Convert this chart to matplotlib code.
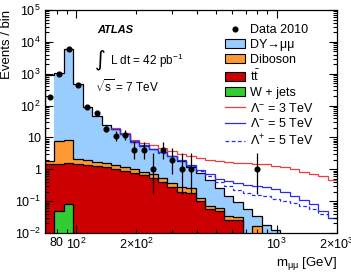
import numpy as np
import matplotlib
matplotlib.use("Agg")
import matplotlib.pyplot as plt
from matplotlib.lines import Line2D
from matplotlib.patches import Patch
from matplotlib.ticker import FixedLocator, FixedFormatter

plt.rcParams["font.family"] = ["Liberation Sans", "DejaVu Sans"]
plt.rcParams["mathtext.fontset"] = "custom"
plt.rcParams["mathtext.rm"] = "Liberation Sans"
plt.rcParams["mathtext.it"] = "Liberation Sans:italic"
plt.rcParams["mathtext.bf"] = "Liberation Sans:bold"

# 31 log bins between 70 and 2000 GeV
mass_edges = np.geomspace(70, 2000, 32)

# events per bin
data_2010 = [190, 1000, 5800, 440, 88, 60, 19, 11, 12, 4, 4, 1, 4, 2, 1, 1,
             0, 0, 0, 0, 0, 0, 1, 0, 0, 0, 0, 0, 0, 0, 0]
dy = [898, 1062, 5790, 488, 88, 45, 22.4, 16.6, 11.3, 6.3, 4.6, 3.6, 2.9,
      2.2, 1.5, 0.95, 0.65, 0.39, 0.2, 0.11, 0.062, 0.055, 0.017, 0.018,
      0.012, 0, 0, 0, 0, 0, 0]
diboson = [0.3, 6.5, 6.75, 0.65, 0.5, 0.45, 0.4, 0.35, 0.3, 0.22, 0.2, 0.15,
           0.12, 0.08, 0.07, 0.07, 0.03, 0.015, 0.012, 0.008, 0.007, 0, 0.016,
           0, 0, 0, 0, 0, 0, 0, 0]
ttbar = [1.5, 1.45, 1.47, 1.45, 1.4, 1.3, 1.2, 1.05, 0.9, 0.78, 0.65, 0.55,
         0.4, 0.28, 0.2, 0.18, 0.1, 0.055, 0.05, 0.025, 0.025, 0, 0, 0, 0, 0,
         0, 0, 0, 0, 0]
wjets = [0, 0.05, 0.08] + [0] * 28

# contact interaction predictions (total), drawn from bin 8 on
ci_first = 7
lam_minus_3 = [20, 14, 8.3, 6.8, 5.6, 4.6, 3.7, 3.0, 2.6, 2.2, 2.0, 1.8, 1.7,
               1.6, 1.6, 1.5, 1.45, 1.3, 1.15, 1.0, 0.85, 0.7, 0.6, 0.45]
lam_minus_5 = [19, 13, 7.6, 5.6, 4.4, 3.5, 2.7, 1.9, 1.4, 0.95, 0.7, 0.5, 0.42,
               0.36, 0.33, 0.3, 0.27, 0.24, 0.2, 0.15, 0.11, 0.08, 0.05, 0.03]
lam_plus_5 = [18.5, 12.8, 7.4, 5.4, 4.2, 3.3, 2.6, 1.8, 1.3, 0.88, 0.6, 0.4,
              0.3, 0.22, 0.18, 0.16, 0.14, 0.12, 0.1, 0.085, 0.07, 0.055, 0.04,
              0.03]

C_DY = "#99ccff"
C_DIBOSON = "#ff9933"
C_TTBAR = "#cc0000"
C_WJETS = "#33cc33"
FLOOR = 1e-4


def stacked(*parts):
    return np.sum([np.asarray(p, dtype=float) for p in parts], axis=0)


def draw_hist(ax, values, edges, color, fill_from=0):
    v = np.clip(values, FLOOR, None)
    ax.stairs(v[fill_from:], edges[fill_from:], baseline=FLOOR, fill=True,
              color=color, lw=0)
    ax.stairs(v, edges, baseline=FLOOR, fill=False, color="k", lw=0.9)


def poisson_err(n):
    n = np.asarray(n, dtype=float)
    up = np.sqrt(n + 0.75) + 1.0
    low = n - n * (1 - 1 / (9 * n) - 1 / (3 * np.sqrt(n))) ** 3
    return low, up


fig = plt.figure(figsize=(3.51, 2.73), dpi=100)
ax = fig.add_axes([45 / 351, 40 / 273, 292 / 351, 223 / 273])
ax.set_xscale("log")
ax.set_yscale("log")

# stack: W+jets, ttbar, diboson, DY
top_w = stacked(wjets)
top_tt = stacked(wjets, ttbar)
top_db = stacked(wjets, ttbar, diboson)
top_dy = stacked(wjets, ttbar, diboson, dy)

draw_hist(ax, top_dy, mass_edges, C_DY, fill_from=1)
draw_hist(ax, top_db, mass_edges, C_DIBOSON)
draw_hist(ax, top_tt, mass_edges, C_TTBAR)
draw_hist(ax, top_w, mass_edges, C_WJETS)

ci_edges = mass_edges[ci_first:]
ax.stairs(lam_minus_3, ci_edges, baseline=None, color="#f03c3c", lw=0.9)
ax.stairs(lam_minus_5, ci_edges, baseline=None, color="#2b2bf0", lw=0.9)
ax.stairs(lam_plus_5, ci_edges, baseline=None, color="#2b2bf0", lw=0.9,
          ls=(0, (3, 2)))

# data
centres = np.sqrt(mass_edges[:-1] * mass_edges[1:])
counts = np.asarray(data_2010, dtype=float)
sel = counts > 0
lo, hi = poisson_err(counts[sel])
ax.errorbar(centres[sel], counts[sel], yerr=[lo, hi], fmt="o", color="k",
            ms=3.4, elinewidth=0.9, capsize=0, zorder=5)

ax.set_xlim(70, 2000)
ax.set_ylim(1e-2, 1e5)

# ticks, ROOT style
ax.xaxis.set_major_locator(FixedLocator([100, 1000]))
ax.xaxis.set_major_formatter(FixedFormatter([r"$10^{2}$", r"$10^{3}$"]))
ax.xaxis.set_minor_locator(FixedLocator(
    [80, 90, 200, 300, 400, 500, 600, 700, 800, 900, 2000]))
ax.xaxis.set_minor_formatter(FixedFormatter(
    ["80", "", r"$2\!\times\!10^{2}$", "", "", "", "", "", "", "",
     r"$2\!\times\!10^{3}$"]))
ydec = [1e-2, 1e-1, 1, 10, 1e2, 1e3, 1e4, 1e5]
ax.yaxis.set_major_locator(FixedLocator(ydec))
ax.yaxis.set_major_formatter(FixedFormatter(
    [r"$10^{-2}$", r"$10^{-1}$", "1", "10", r"$10^{2}$", r"$10^{3}$",
     r"$10^{4}$", r"$10^{5}$"]))
ax.yaxis.set_minor_locator(FixedLocator(
    [m * d for d in ydec[:-1] for m in range(2, 10)]))
ax.yaxis.set_minor_formatter(FixedFormatter([]))
ax.tick_params(which="both", direction="in", top=True, right=True,
               labelsize=9, width=0.8, pad=3)
ax.tick_params(which="major", length=5.5)
ax.tick_params(which="minor", length=3)
for s in ax.spines.values():
    s.set_linewidth(0.9)

ax.set_ylabel("Events / bin", fontsize=9.5, loc="top")
ax.yaxis.set_label_coords(-0.108, 1.0)
ax.set_xlabel(r"m$_{\mathrm{μμ}}$ [GeV]", fontsize=9.5, loc="right")
ax.xaxis.set_label_coords(1.0, -0.1)

# labels
ax.text(0.178, 0.91, "ATLAS", transform=ax.transAxes, fontsize=8,
        fontweight="bold", fontstyle="italic", va="center")
ax.text(0.172, 0.775, "∫", transform=ax.transAxes, fontsize=15,
        family="DejaVu Sans", va="center")
ax.text(0.222, 0.77, r"L dt = 42 pb$^{-1}$", transform=ax.transAxes,
        fontsize=8.5, va="center")
ax.text(0.171, 0.655, r"$\sqrt{\mathrm{s}}$ = 7 TeV", transform=ax.transAxes,
        fontsize=8.5, va="center")

handles = [
    Line2D([], [], ls="none", marker="o", color="k", ms=3.4),
    Patch(facecolor=C_DY, edgecolor="k", lw=0.8),
    Patch(facecolor=C_DIBOSON, edgecolor="k", lw=0.8),
    Patch(facecolor=C_TTBAR, edgecolor="k", lw=0.8),
    Patch(facecolor=C_WJETS, edgecolor="k", lw=0.8),
    Line2D([], [], color="#f03c3c", lw=0.9),
    Line2D([], [], color="#2b2bf0", lw=0.9),
    Line2D([], [], color="#2b2bf0", lw=0.9, ls=(0, (3, 2))),
]
labels = ["Data 2010", "DY→μμ", "Diboson", r"t$\bar{\mathrm{t}}$",
          "W + jets", r"Λ$^{-}$ = 3 TeV", r"Λ$^{-}$ = 5 TeV",
          r"Λ$^{+}$ = 5 TeV"]
ax.legend(handles, labels, loc="upper left", bbox_to_anchor=(0.616, 0.935),
          frameon=False, fontsize=9, handlelength=1.6, handleheight=0.7,
          handletextpad=0.4, labelspacing=0.22, borderpad=0,
          borderaxespad=0)

fig.savefig("out.png", dpi=100)
